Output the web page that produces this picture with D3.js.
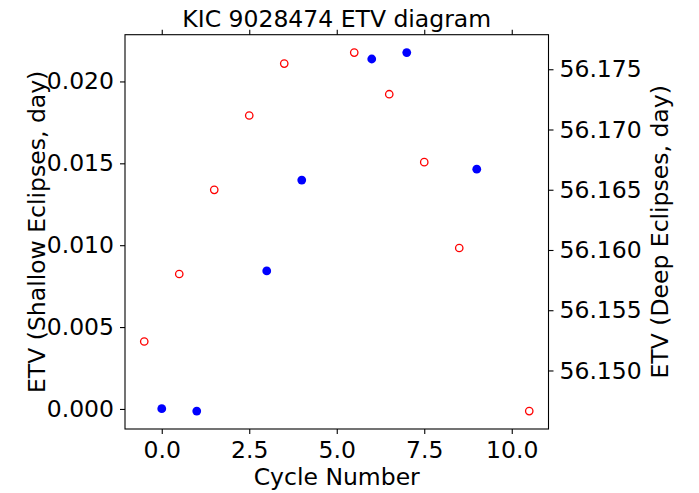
<!DOCTYPE html>
<html>
<head>
<meta charset="utf-8">
<script src="https://cdn.jsdelivr.net/npm/d3@7"></script>
<style>
  html, body { margin: 0; padding: 0; background: #fff; }
  svg text { font-family: "DejaVu Sans", sans-serif; fill: #000; }
</style>
</head>
<body>
<svg id="chart" width="699" height="493"></svg>
<script>
// Eclipse timing variations of KIC 9028474
const shallowCycles = [-0.5, 0.5, 1.5, 2.5, 3.5, 5.5, 6.5, 7.5, 8.5, 10.5];
const shallowEtv    = [0.00412, 0.00824, 0.01338, 0.01792, 0.02109, 0.02176, 0.01922, 0.01507, 0.00983, -0.00013];
const deepCycles    = [0, 1, 3, 4, 6, 7, 9];
const deepEtv       = [56.14683, 56.14663, 56.15826, 56.16580, 56.17585, 56.17638, 56.16671];
const xTicks        = [0, 2.5, 5, 7.5, 10];
const leftTicks     = [0.000, 0.005, 0.010, 0.015, 0.020];
const rightTicks    = [56.150, 56.155, 56.160, 56.165, 56.170, 56.175];

const svg = d3.select("#chart");
const L = 125, R = 548.5, T = 34.7, B = 429;
const FS = 23.5;

// Axis limits padded by 5% of the data span on each side
function padded(vals) {
  const [lo, hi] = d3.extent(vals);
  const m = (hi - lo) * 0.05;
  return [lo - m, hi + m];
}
const allCycles = shallowCycles.concat(deepCycles);
const x = d3.scaleLinear().domain(padded(allCycles)).range([L, R]);
const yL = d3.scaleLinear().domain(padded(shallowEtv)).range([B, T]);
const yR = d3.scaleLinear().domain(padded(deepEtv)).range([B, T]);

function styleAxis(g) {
  g.select(".domain").remove();
  g.selectAll(".tick line").attr("stroke", "#000").attr("stroke-width", 1.1);
  g.selectAll(".tick text").style("font-size", FS + "px").style("font-family", "DejaVu Sans");
}

svg.append("g").attr("transform", `translate(0,${B})`)
  .call(d3.axisBottom(x).tickValues(xTicks).tickFormat(d3.format(".1f")).tickSize(5).tickPadding(7))
  .call(styleAxis);
svg.append("g").attr("transform", `translate(0,${T})`)
  .call(d3.axisTop(x).tickValues(xTicks).tickFormat("").tickSize(5))
  .call(styleAxis);
svg.append("g").attr("transform", `translate(${L},0)`)
  .call(d3.axisLeft(yL).tickValues(leftTicks).tickFormat(d3.format(".3f")).tickSize(5).tickPadding(6))
  .call(styleAxis);
svg.append("g").attr("transform", `translate(${R},0)`)
  .call(d3.axisRight(yR).tickValues(rightTicks).tickFormat(d3.format(".3f")).tickSize(5).tickPadding(6))
  .call(styleAxis);

// Frame
svg.append("rect").attr("x", L).attr("y", T).attr("width", R - L).attr("height", B - T)
  .attr("fill", "none").attr("stroke", "#000").attr("stroke-width", 1.1);

// Shallow eclipses: open red circles
svg.append("g").selectAll("circle").data(shallowCycles).join("circle")
  .attr("cx", d => x(d)).attr("cy", (d, i) => yL(shallowEtv[i]))
  .attr("r", 3.7).attr("fill", "none").attr("stroke", "#ff0000").attr("stroke-width", 1.3);

// Deep eclipses: filled blue dots
svg.append("g").selectAll("circle").data(deepCycles).join("circle")
  .attr("cx", d => x(d)).attr("cy", (d, i) => yR(deepEtv[i]))
  .attr("r", 4.4).attr("fill", "#0000ff");

// Titles and axis labels
svg.append("text").attr("x", (L + R) / 2).attr("y", 27).attr("text-anchor", "middle")
  .style("font-size", FS + "px").text("KIC 9028474 ETV diagram");
svg.append("text").attr("x", (L + R) / 2).attr("y", 485).attr("text-anchor", "middle")
  .style("font-size", FS + "px").text("Cycle Number");
svg.append("text").attr("transform", `translate(45,${(T + B) / 2}) rotate(-90)`).attr("text-anchor", "middle")
  .style("font-size", FS + "px").text("ETV (Shallow Eclipses, day)");
svg.append("text").attr("transform", `translate(668,${(T + B) / 2}) rotate(-90)`).attr("text-anchor", "middle")
  .style("font-size", FS + "px").text("ETV (Deep Eclipses, day)");
</script>
</body>
</html>
